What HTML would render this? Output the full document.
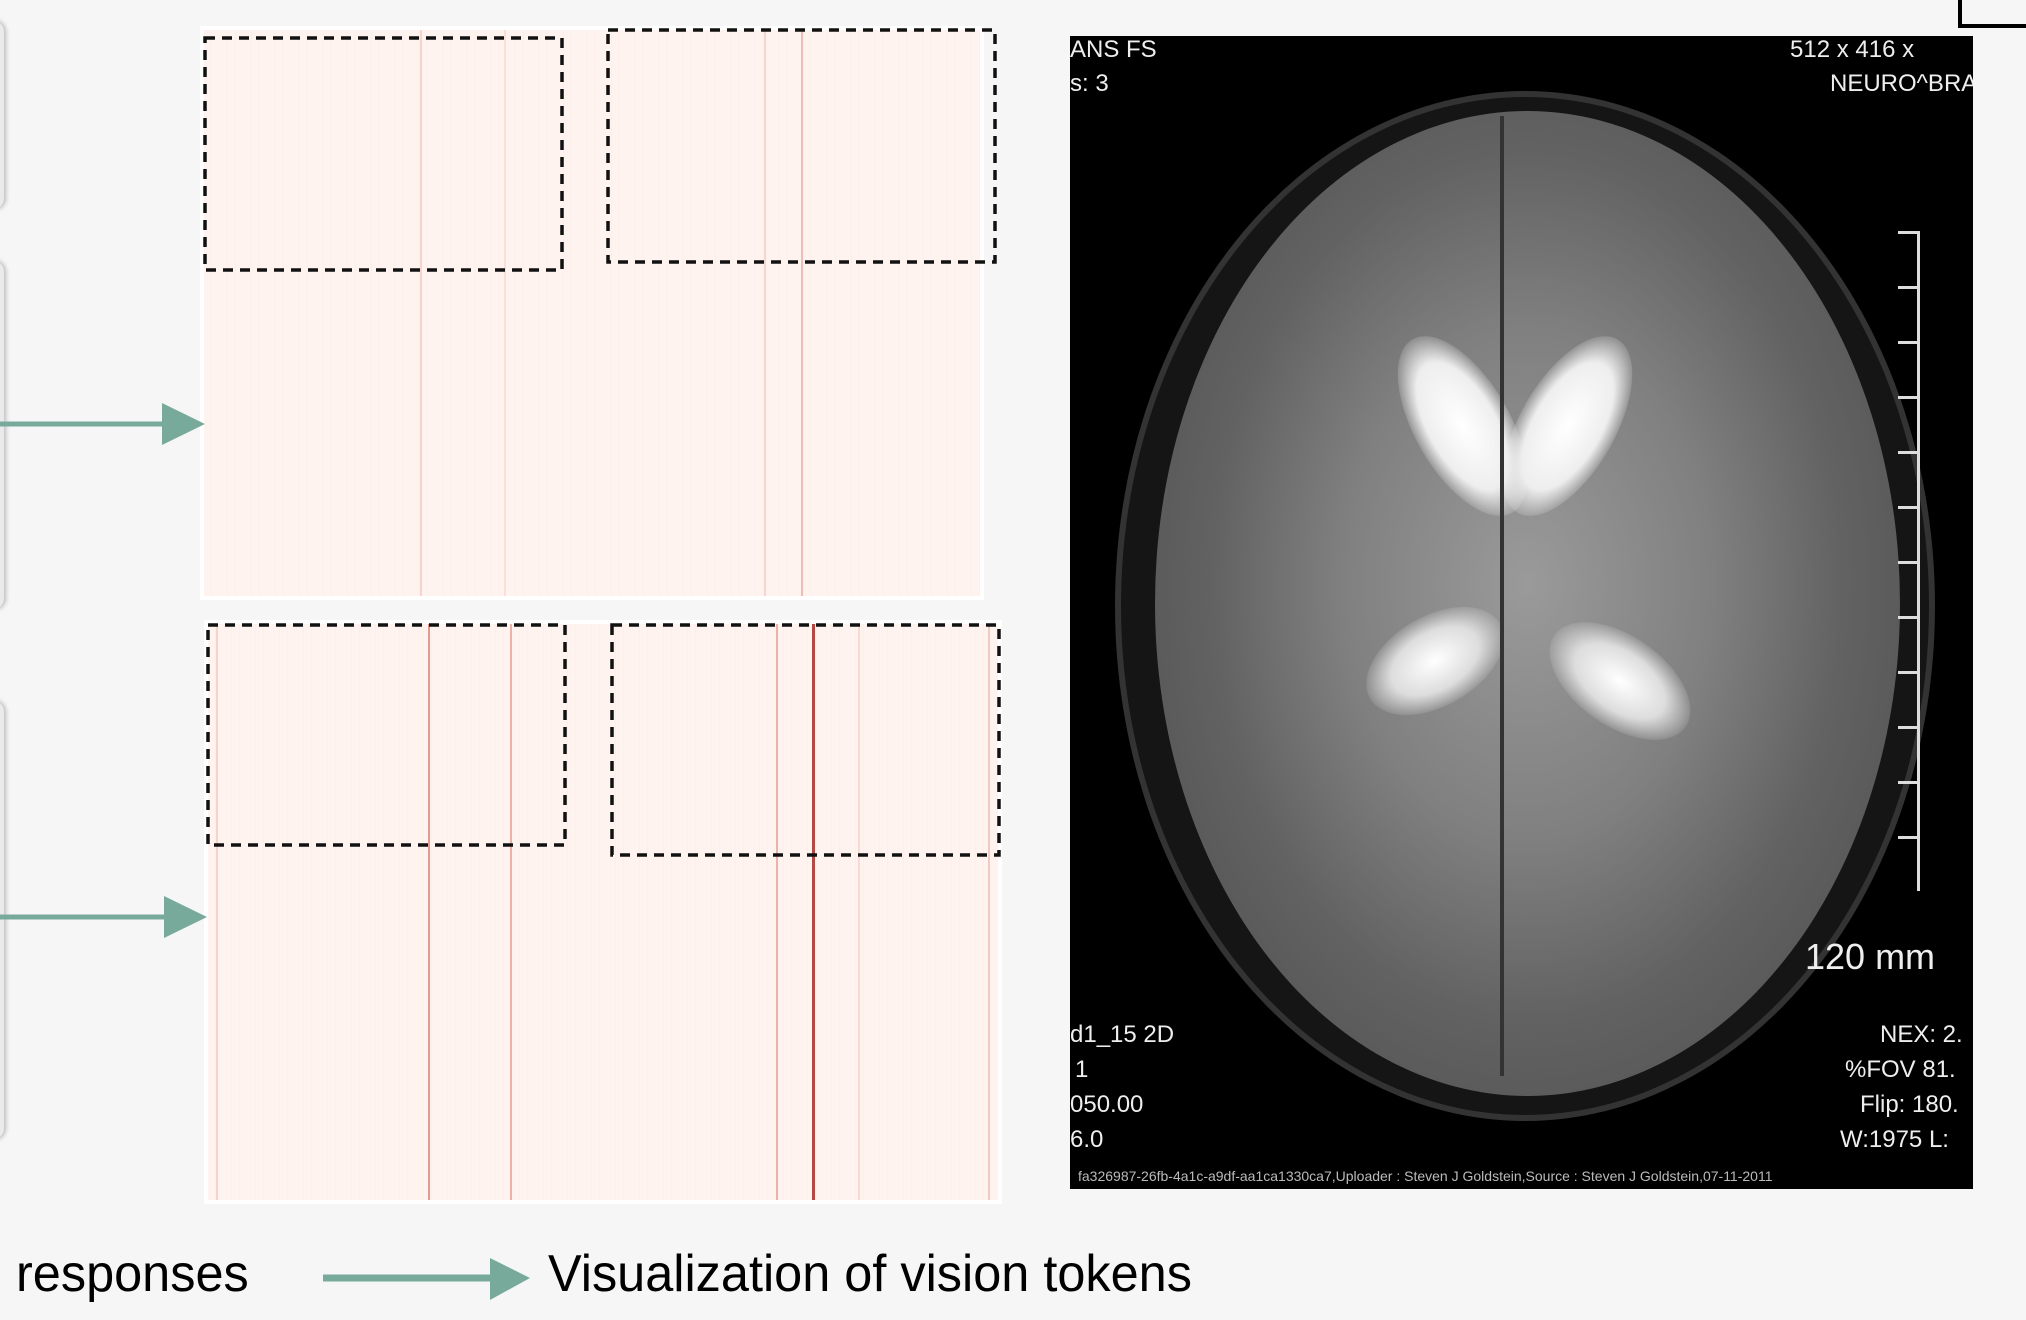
<!DOCTYPE html>
<html><head><meta charset="utf-8"><style>
html,body{margin:0;padding:0}
body{width:2026px;height:1320px;background:#f6f6f6;position:relative;overflow:hidden;font-family:"Liberation Sans",sans-serif}
.abs{position:absolute}
.hm{position:absolute;background:#fff;}
.hm .in{position:absolute;left:4px;top:4px;right:4px;bottom:4px;background:
repeating-linear-gradient(90deg,rgba(240,180,160,0) 0 7px,rgba(240,170,150,.08) 7px 8px,rgba(240,180,160,0) 8px 23px,rgba(235,160,140,.07) 23px 24px),#fff3ef}
.ln{position:absolute;top:0;bottom:0;width:2px}
.lab{position:absolute;color:#000;font-size:52px;transform-origin:left top;white-space:nowrap}
.mt{position:absolute;color:#eee;font-size:24px;font-family:"Liberation Sans",sans-serif}
</style></head><body>
<div class="abs" style="left:-20px;top:20px;width:24px;height:190px;border-radius:12px;background:#eaeaea;box-shadow:2px 0 4px #bbb"></div>
<div class="abs" style="left:-20px;top:260px;width:24px;height:350px;border-radius:12px;background:#eaeaea;box-shadow:2px 0 4px #bbb"></div>
<div class="abs" style="left:-20px;top:700px;width:24px;height:440px;border-radius:12px;background:#eaeaea;box-shadow:2px 0 4px #bbb"></div>
<div class="abs" style="left:1958px;top:-10px;width:80px;height:38px;border:4px solid #000;box-sizing:border-box;background:#f6f6f6"></div>

<div class="hm" style="left:200px;top:26px;width:784px;height:574px">
 <div class="in">
  <div class="ln" style="left:216px;background:rgba(230,140,120,.3)"></div>
  <div class="ln" style="left:300px;background:rgba(230,140,120,.2)"></div>
  <div class="ln" style="left:560px;background:rgba(220,130,110,.25)"></div>
  <div class="ln" style="left:597px;background:rgba(210,110,95,.4)"></div>
 </div>
</div>
<div class="hm" style="left:204px;top:620px;width:798px;height:584px">
 <div class="in">
  <div class="ln" style="left:8px;background:rgba(220,120,100,.25)"></div>
  <div class="ln" style="left:220px;background:rgba(200,80,60,.55)"></div>
  <div class="ln" style="left:302px;background:rgba(210,100,80,.45)"></div>
  <div class="ln" style="left:568px;background:rgba(210,100,80,.45)"></div>
  <div class="ln" style="left:604px;background:rgba(160,30,25,.8);width:3px"></div>
  <div class="ln" style="left:650px;background:rgba(220,120,100,.2)"></div>
  <div class="ln" style="left:780px;background:rgba(210,110,90,.3)"></div>
 </div>
</div>

<svg class="abs" style="left:0;top:0" width="2026" height="1320">
 <g fill="none" stroke="#111" stroke-width="3.5" stroke-dasharray="10 7">
  <rect x="205" y="38" width="357" height="232"/>
  <rect x="608" y="30" width="387" height="232"/>
  <rect x="208" y="625" width="357" height="220"/>
  <rect x="612" y="625" width="387" height="230"/>
 </g>
 <g fill="#78aa9c" stroke="#78aa9c">
  <line x1="0" y1="424" x2="170" y2="424" stroke-width="5"/>
  <polygon points="162,403 205,424 162,445" stroke="none"/>
  <line x1="0" y1="917" x2="172" y2="917" stroke-width="5"/>
  <polygon points="164,896 207,917 164,938" stroke="none"/>
  <line x1="323" y1="1278" x2="500" y2="1278" stroke-width="7"/>
  <polygon points="490,1258 530,1278 490,1300" stroke="none"/>
 </g>
</svg>

<div class="abs" style="left:1070px;top:36px;width:903px;height:1153px;background:#000;overflow:hidden">
 <div class="abs" style="left:45px;top:55px;width:820px;height:1030px;border-radius:50%;background:#151515;border:6px solid #333;box-sizing:border-box"></div>
 <div class="abs" style="left:85px;top:75px;width:745px;height:985px;border-radius:50%;background:radial-gradient(ellipse at 50% 48%,#9a9a9a 0%,#808080 35%,#626262 60%,#555 80%,#2a2a2a 100%)"></div>
 <div class="abs" style="left:345px;top:290px;width:95px;height:200px;border-radius:50%;background:radial-gradient(#fff,#eee 50%,rgba(230,230,230,0) 75%);transform:rotate(-30deg)"></div>
 <div class="abs" style="left:450px;top:290px;width:95px;height:200px;border-radius:50%;background:radial-gradient(#fff,#eee 50%,rgba(230,230,230,0) 75%);transform:rotate(30deg)"></div>
 <div class="abs" style="left:290px;top:580px;width:150px;height:90px;border-radius:50%;background:radial-gradient(#fff,#ddd 45%,rgba(200,200,200,0) 75%);transform:rotate(-30deg)"></div>
 <div class="abs" style="left:470px;top:600px;width:160px;height:90px;border-radius:50%;background:radial-gradient(#fff,#ddd 45%,rgba(200,200,200,0) 75%);transform:rotate(35deg)"></div>
 <div class="abs" style="left:430px;top:80px;width:4px;height:960px;background:#333"></div>
 <div class="abs" style="left:847px;top:195px;width:3px;height:660px;background:#ddd"></div>
 <div class="abs" style="left:828px;top:195px;width:22px;height:660px;background:repeating-linear-gradient(180deg,#ddd 0 3px,transparent 3px 55px)"></div>
 <div class="mt" style="left:0;top:0">ANS FS</div>
 <div class="mt" style="left:0;top:34px">s: 3</div>
 <div class="mt" style="left:720px;top:0">512 x 416 x</div>
 <div class="mt" style="left:760px;top:34px">NEURO^BRA</div>
 <div class="mt" style="left:735px;top:900px;font-size:36px">120 mm</div>
 <div class="mt" style="left:0;top:985px">d1_15 2D</div>
 <div class="mt" style="left:5px;top:1020px">1</div>
 <div class="mt" style="left:0;top:1055px">050.00</div>
 <div class="mt" style="left:0;top:1090px">6.0</div>
 <div class="mt" style="left:810px;top:985px">NEX: 2.</div>
 <div class="mt" style="left:775px;top:1020px">%FOV 81.</div>
 <div class="mt" style="left:790px;top:1055px">Flip: 180.</div>
 <div class="mt" style="left:770px;top:1090px">W:1975 L:</div>
 <div class="mt" style="left:8px;top:1132px;font-size:14px;color:#bbb">fa326987-26fb-4a1c-a9df-aa1ca1330ca7,Uploader : Steven J Goldstein,Source : Steven J Goldstein,07-11-2011</div>
</div>

<div class="lab" style="left:16px;top:1244px;transform:scaleX(.97)">responses</div>
<div class="lab" style="left:548px;top:1244px;transform:scaleX(.97)">Visualization of vision tokens</div>
</body></html>
